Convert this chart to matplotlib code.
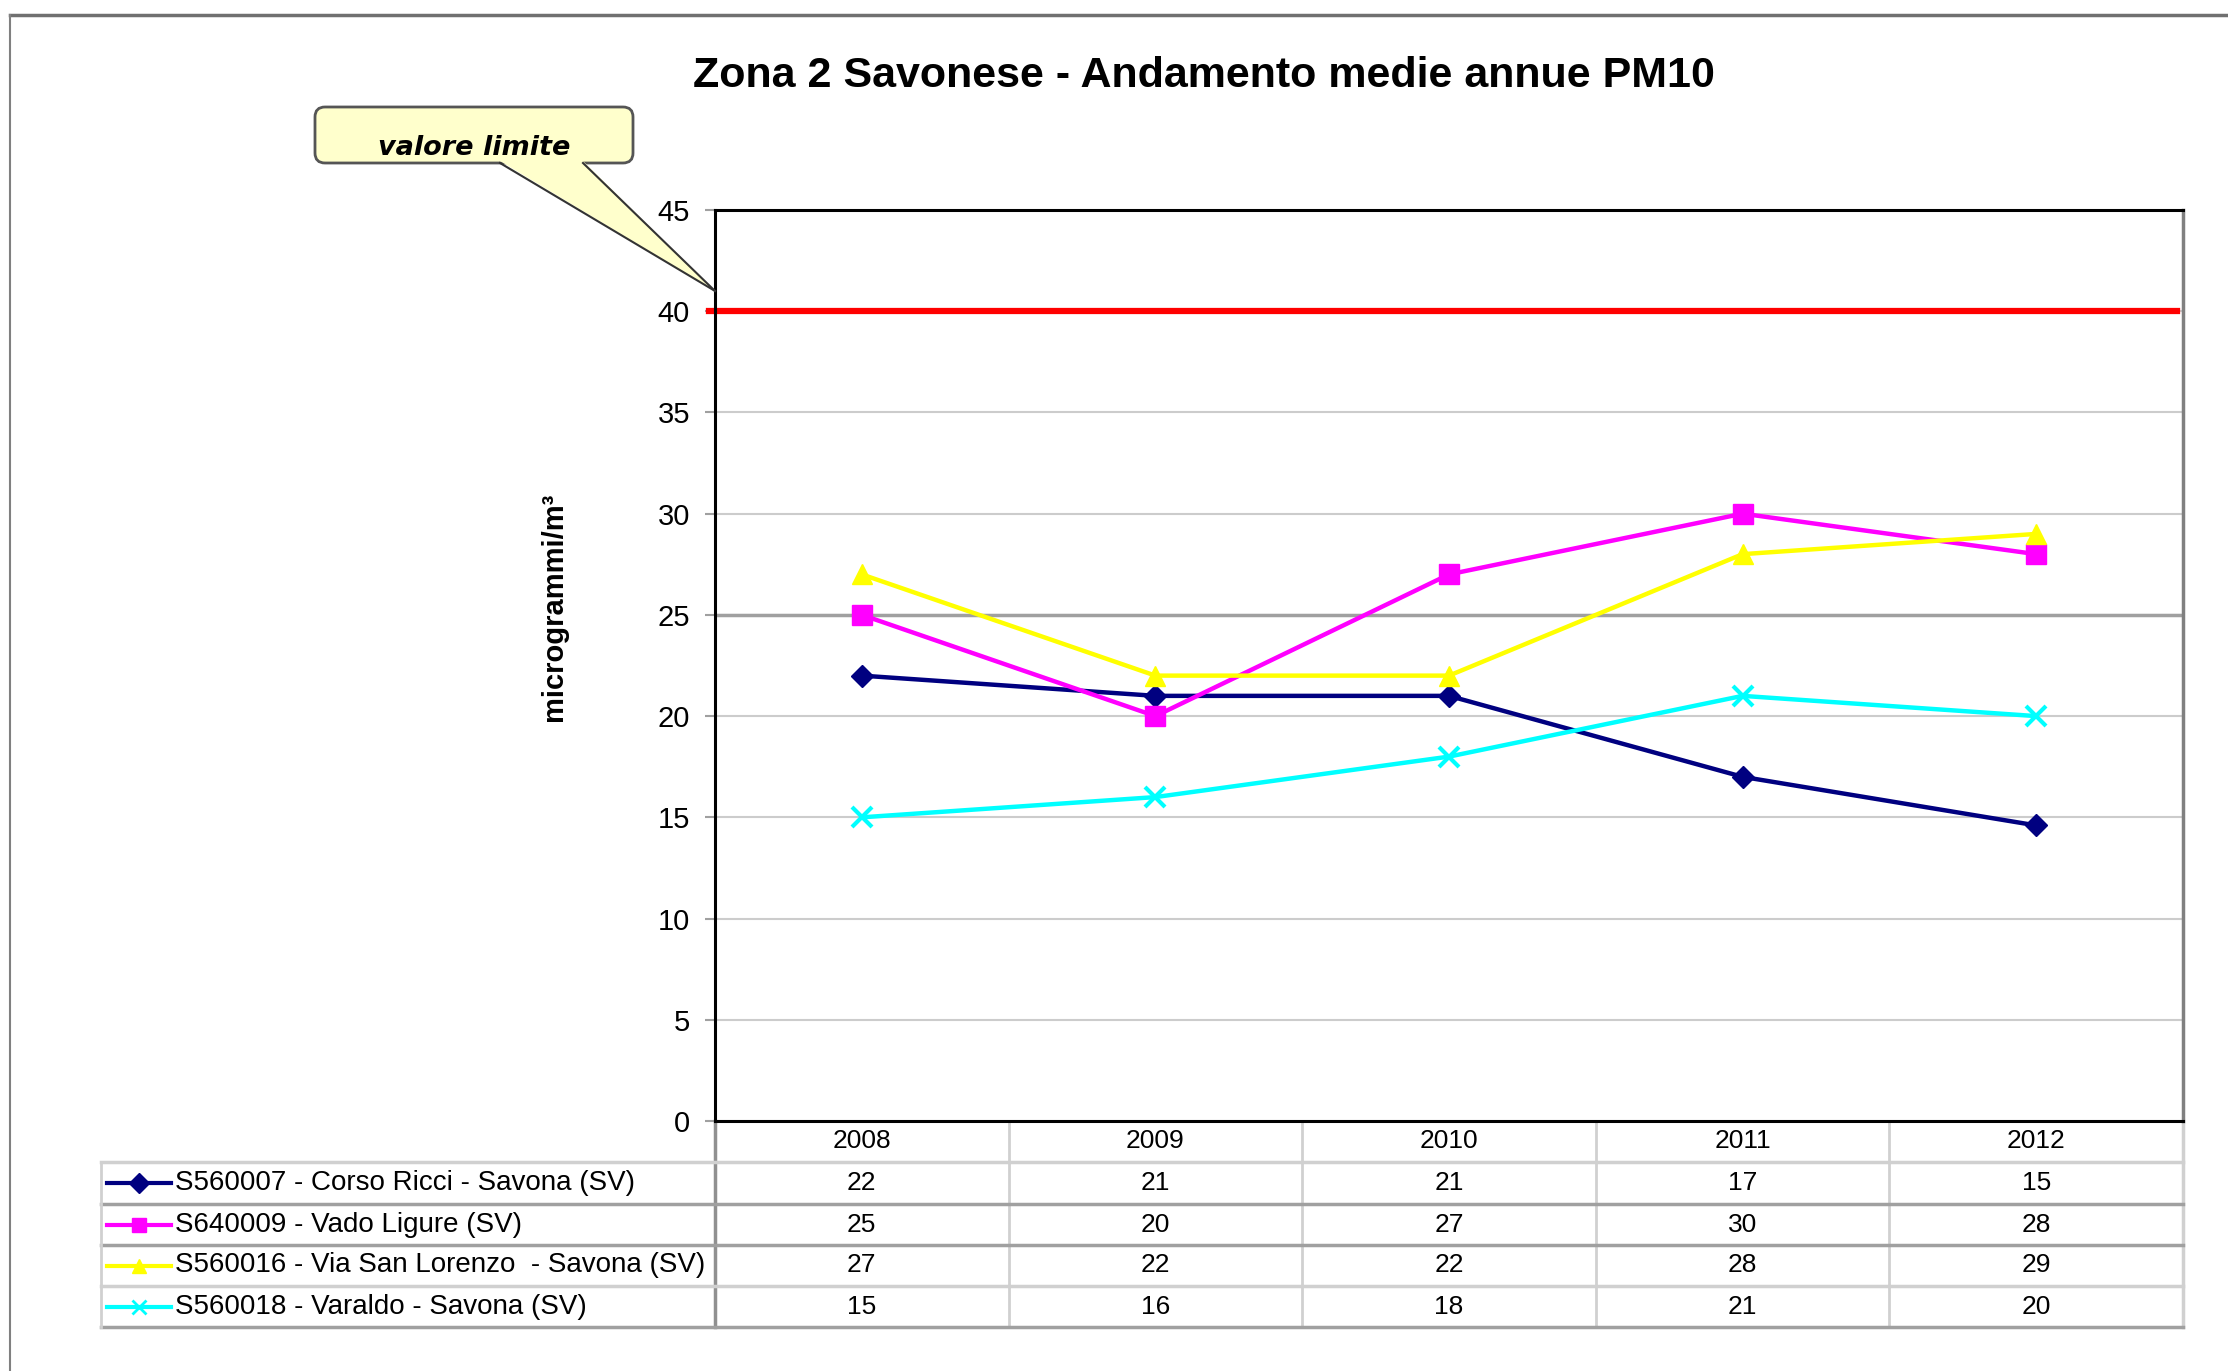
import matplotlib
matplotlib.use('Agg')
import matplotlib.pyplot as plt
import matplotlib.transforms as mtransforms
from matplotlib.lines import Line2D
from matplotlib.patches import FancyBboxPatch, Polygon

plt.rcParams['font.family'] = ['Liberation Sans', 'DejaVu Sans']

years = ['2008', '2009', '2010', '2011', '2012']
stations = ['S560007 - Corso Ricci - Savona (SV)',
            'S640009 - Vado Ligure (SV)',
            'S560016 - Via San Lorenzo  - Savona (SV)',
            'S560018 - Varaldo - Savona (SV)']
corso_ricci = [22, 21, 21, 17, 14.6]
vado_ligure = [25, 20, 27, 30, 28]
san_lorenzo = [27, 22, 22, 28, 29]
varaldo = [15, 16, 18, 21, 20]
limit_value = 40

series = [corso_ricci, vado_ligure, san_lorenzo, varaldo]
colors = ['#000080', '#ff00ff', '#ffff00', '#00ffff']
markers = ['D', 's', '^', 'x']
msizes = [11, 15, 15, 14]

W, H = 2228, 1371


def fx(x):
    return x / W


def fy(y):
    return 1 - y / H


fig = plt.figure(figsize=(W / 100, H / 100), dpi=100)

# plot area
ax = fig.add_axes([fx(715), fy(1121), (2183 - 715) / W, (1121 - 210) / H])
ax.set_xlim(-0.5, 4.5)
ax.set_ylim(0, 45)
ax.set_yticks(range(0, 50, 5))
ax.set_xticks([])
ax.yaxis.grid(True, color='#cccccc', lw=1.5)
ax.set_axisbelow(True)
ax.axhline(25, color='#a0a0a0', lw=2.5, zorder=1)
ax.tick_params(axis='y', length=7, width=1.5, color='#a0a0a0', pad=11, labelsize=21)
for side in ['left', 'top', 'bottom']:
    ax.spines[side].set_color('black')
    ax.spines[side].set_linewidth(2.2)
ax.spines['right'].set_color('#808080')
ax.spines['right'].set_linewidth(2.5)

ax.axhline(limit_value, xmin=-0.004, xmax=0.996, color='#ff0000', lw=4.5, clip_on=False, zorder=2)

x = range(len(years))
for vals, c, m, ms in zip(series, colors, markers, msizes):
    ax.plot(x, vals, color=c, lw=3.2, marker=m, markersize=ms,
            markeredgewidth=3 if m == 'x' else 1, markeredgecolor=c, clip_on=False, zorder=3)

# title and y label
fig.text(fx(1204), fy(76), 'Zona 2 Savonese - Andamento medie annue PM10',
         ha='center', va='center', fontsize=31, fontweight='bold')
fig.text(fx(554), fy(607), 'microgrammi/m³', rotation=90, ha='center', va='center',
         fontsize=21, fontweight='bold')

# data table under the chart
trans = mtransforms.blended_transform_factory(ax.transData, fig.transFigure)
rows = [1121, 1162, 1204, 1245, 1286, 1327]
x_right = ax.get_position().x1
for i, y in enumerate(rows[1:]):
    col = '#d0d0d0' if i in (0, 3) else '#a0a0a0'
    fig.add_artist(Line2D([fx(101), x_right], [fy(y), fy(y)], color=col, lw=2.5,
                          transform=fig.transFigure))
fig.add_artist(Line2D([fx(101), fx(101)], [fy(1162), fy(1327)], color='#d0d0d0', lw=2,
                      transform=fig.transFigure))
for k in range(1, len(years)):
    ax.add_artist(Line2D([k - 0.5, k - 0.5], [fy(1121), fy(1327)], color='#d0d0d0', lw=2,
                         transform=trans, clip_on=False))
ax.add_artist(Line2D([-0.5, -0.5], [fy(1121), fy(1327)], color='#909090', lw=2.5,
                     transform=trans, clip_on=False))
ax.add_artist(Line2D([4.5, 4.5], [fy(1121), fy(1327)], color='#d0d0d0', lw=2.5,
                     transform=trans, clip_on=False))

for i, yr in enumerate(years):
    ax.text(i, fy((rows[0] + rows[1]) / 2), yr, transform=trans, ha='center', va='center',
            fontsize=19)
for r, (name, vals, c, m) in enumerate(zip(stations, series, colors, markers)):
    yc = fy((rows[r + 1] + rows[r + 2]) / 2)
    fig.add_artist(Line2D([fx(107), fx(171)], [yc, yc], color=c, lw=3, transform=fig.transFigure))
    fig.add_artist(Line2D([fx(139)], [yc], color=c, marker=m, markersize=10,
                          markeredgewidth=2 if m == 'x' else 1, transform=fig.transFigure))
    fig.text(fx(175), yc, name, ha='left', va='center', fontsize=20)
    for i, v in enumerate(vals):
        ax.text(i, yc, f'{v:.0f}', transform=trans, ha='center', va='center', fontsize=19)

# callout "valore limite"
ident = mtransforms.IdentityTransform()
box = FancyBboxPatch((315, H - 163), 318, 56, boxstyle='round,pad=0,rounding_size=10',
                     transform=ident, facecolor='#ffffcc', edgecolor='#555555', lw=2)
fig.add_artist(box)
tip = ax.transData.transform((-0.5, 41))
wedge = Polygon([(500, H - 161), (583, H - 161), tuple(tip)], closed=True, transform=ident,
                facecolor='#ffffcc', edgecolor='none')
fig.add_artist(wedge)
fig.add_artist(Line2D([500, tip[0]], [H - 163, tip[1]], color='#333333', lw=1.5, transform=ident))
fig.add_artist(Line2D([583, tip[0]], [H - 163, tip[1]], color='#333333', lw=1.5, transform=ident))
fig.text(fx(474), fy(148), 'valore limite', ha='center', va='center', fontsize=19.5,
         style='italic', fontweight='bold', family=['DejaVu Sans'])

# outer frame
fig.add_artist(Line2D([fx(10), 1], [fy(15), fy(15)], color='#707070', lw=2.5, transform=fig.transFigure))
fig.add_artist(Line2D([fx(10), fx(10)], [fy(15), 0], color='#808080', lw=1.5, transform=fig.transFigure))

fig.savefig('out.png', dpi=100)
